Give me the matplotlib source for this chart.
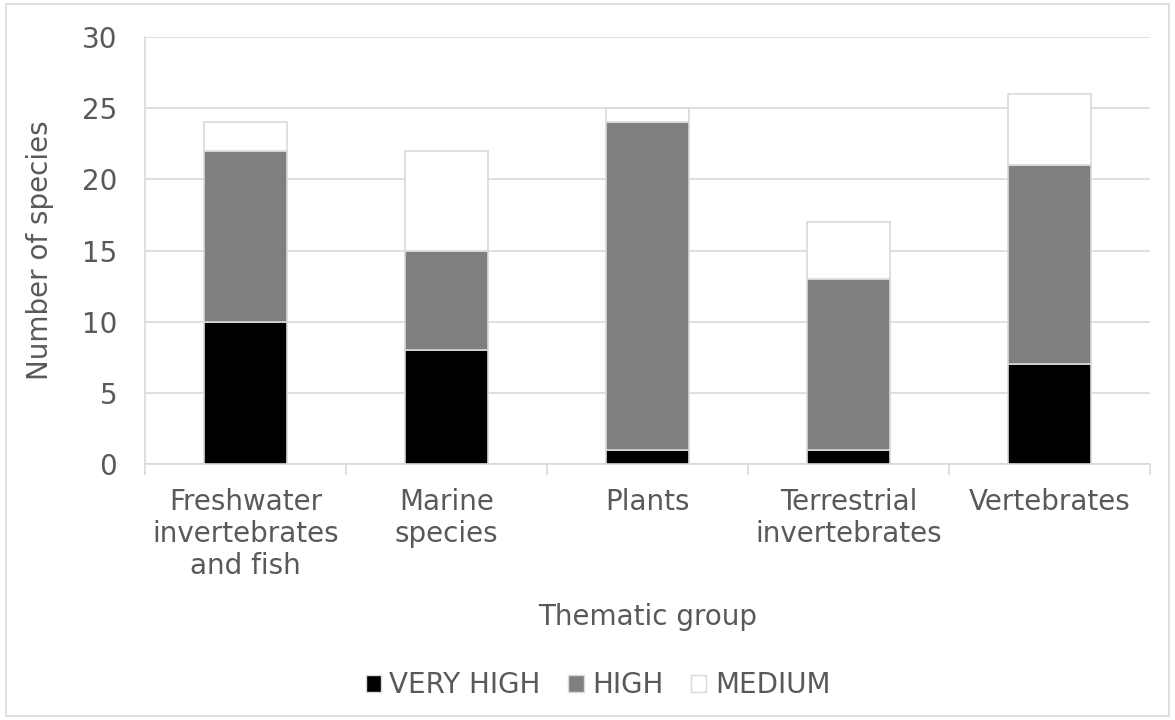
import matplotlib
matplotlib.use("Agg")
import matplotlib.pyplot as plt
from matplotlib.patches import Rectangle, Patch
import numpy as np

categories = ["Freshwater\ninvertebrates\nand fish", "Marine\nspecies", "Plants",
              "Terrestrial\ninvertebrates", "Vertebrates"]
very_high = [10, 8, 1, 1, 7]
high = [12, 7, 23, 12, 14]
medium = [2, 7, 1, 4, 5]

series = [("VERY HIGH", very_high, "#000000"),
          ("HIGH", high, "#7f7f7f"),
          ("MEDIUM", medium, "#ffffff")]

plt.rcParams["font.family"] = ["DejaVu Sans"]
text_col = "#595959"
grid_col = "#d9d9d9"
fs = 20

fig = plt.figure(figsize=(11.75, 7.2), dpi=100)
ax = fig.add_axes([145 / 1175, 1 - 464 / 720, (1150 - 145) / 1175, (464 - 37) / 720])

x = np.arange(len(categories))
bottom = np.zeros(len(categories))
for name, vals, col in series:
    ax.bar(x, vals, width=0.41, bottom=bottom, color=col, edgecolor=grid_col,
           linewidth=1.2, label=name, zorder=3)
    bottom += np.array(vals)

ax.set_xlim(-0.5, len(categories) - 0.5)
ax.set_ylim(0, 30)
ax.set_yticks(range(0, 31, 5))
ax.yaxis.grid(True, color=grid_col, linewidth=1.2, zorder=0)
ax.set_axisbelow(True)

for s in ["top", "right"]:
    ax.spines[s].set_visible(False)
ax.spines["left"].set_color(grid_col)
ax.spines["bottom"].set_color(grid_col)
ax.spines["left"].set_linewidth(1.2)
ax.spines["bottom"].set_linewidth(1.2)

ax.tick_params(axis="y", length=0, labelsize=fs, labelcolor=text_col, pad=20)
ax.set_xticks(x)
ax.set_xticklabels(categories, fontsize=fs, color=text_col, linespacing=1.2)
ax.tick_params(axis="x", length=0, pad=17)
# category separators on the x axis
ax.set_xticks(np.arange(-0.5, len(categories)), minor=True)
ax.tick_params(axis="x", which="minor", length=8, color=grid_col, width=1.2)

ax.set_ylabel("Number of species", fontsize=fs, color=text_col, labelpad=20)
ax.set_xlabel("Thematic group", fontsize=fs, color=text_col, labelpad=16)

handles = [Patch(facecolor=c, edgecolor=grid_col, label=n) for n, _, c in series]
fig.legend(handles=handles, loc="center", bbox_to_anchor=(598 / 1175, 1 - 685 / 720),
           ncol=3, frameon=False, fontsize=fs, labelcolor=text_col,
           handlelength=0.55, handleheight=0.55, handletextpad=0.3, columnspacing=1.0)

fig.patches.append(Rectangle((6 / 1175, 4 / 720), 1163 / 1175, 712 / 720,
                             transform=fig.transFigure, fill=False,
                             edgecolor=grid_col, linewidth=1.2))

fig.savefig("out.png", dpi=100, facecolor="white")
